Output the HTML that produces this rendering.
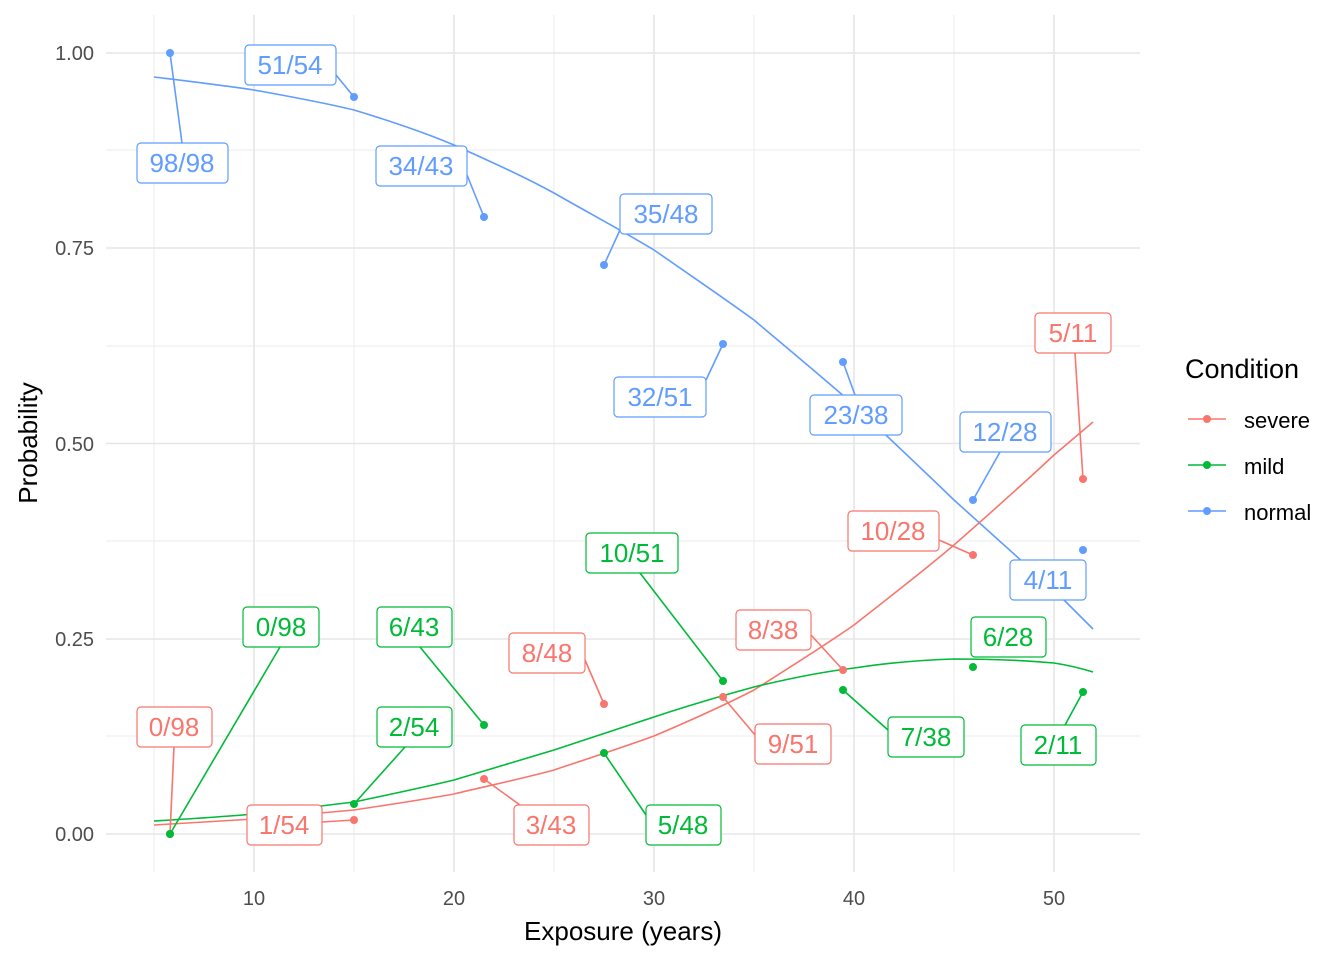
<!DOCTYPE html>
<html><head><meta charset="utf-8"><style>body{margin:0;background:#fff}svg{display:block}text{font-family:"Liberation Sans",sans-serif}</style></head><body>
<svg width="1344" height="960" viewBox="0 0 1344 960">
<g stroke="#ebebeb" stroke-width="1">
<line x1="106" x2="1140" y1="736" y2="736"/><line x1="106" x2="1140" y1="541" y2="541"/><line x1="106" x2="1140" y1="346" y2="346"/><line x1="106" x2="1140" y1="150" y2="150"/>
<line x1="154" x2="154" y1="15" y2="872"/><line x1="354" x2="354" y1="15" y2="872"/><line x1="554" x2="554" y1="15" y2="872"/><line x1="754" x2="754" y1="15" y2="872"/><line x1="954" x2="954" y1="15" y2="872"/>
</g>
<g stroke="#e6e6e6" stroke-width="1.6">
<line x1="106" x2="1140" y1="834" y2="834"/><line x1="106" x2="1140" y1="639" y2="639"/><line x1="106" x2="1140" y1="443.5" y2="443.5"/><line x1="106" x2="1140" y1="248" y2="248"/><line x1="106" x2="1140" y1="53" y2="53"/>
<line x1="254" x2="254" y1="15" y2="872"/><line x1="454" x2="454" y1="15" y2="872"/><line x1="654" x2="654" y1="15" y2="872"/><line x1="854" x2="854" y1="15" y2="872"/><line x1="1054" x2="1054" y1="15" y2="872"/>
</g>
<g font-size="20" fill="#4d4d4d" text-anchor="end">
<text x="94" y="841">0.00</text><text x="94" y="646">0.25</text><text x="94" y="451">0.50</text><text x="94" y="255">0.75</text><text x="94" y="60">1.00</text>
</g>
<g font-size="20" fill="#4d4d4d" text-anchor="middle">
<text x="254" y="905">10</text><text x="454" y="905">20</text><text x="654" y="905">30</text><text x="854" y="905">40</text><text x="1054" y="905">50</text>
</g>
<text x="623" y="940" font-size="26" text-anchor="middle">Exposure (years)</text>
<text transform="translate(37,443) rotate(-90)" font-size="26" text-anchor="middle">Probability</text>
<g fill="none" stroke-width="1.6">
<path id="cn" stroke="#619CFF" d="M154,77 C187,81 221,85 254,90 C287,96 321,102 354,110 C387,120 421,131 454,145 C487,160 521,175 554,193 C587,212 621,230 654,250 C687,273 721,296 754,320 C787,348 821,376 854,405 C887,436 921,468 954,500 C987,530 1021,560 1054,590 C1067,603 1080,616 1093,629"/>
<path stroke="#F8766D" d="M154,825 C187,823 221,821 254,819 C287,816 321,813 354,810 C387,805 421,800 454,794 C487,786 521,779 554,770 C587,759 621,748 654,736 C687,722 721,707 754,690 C787,669 821,648 854,625 C887,599 921,573 954,545 C987,516 1021,486 1054,455 C1067,444 1080,433 1093,422"/>
<path stroke="#00BA38" d="M154,821 C187,819 221,817 254,814 C287,810 321,806 354,802 C387,795 421,788 454,780 C487,770 521,760 554,750 C587,739 621,728 654,717 C687,706 721,696 754,687 C787,679 821,672 854,668 C887,663 921,660 954,659 C987,659 1021,660 1054,663 C1067,665 1080,668 1093,672"/>
</g>
<g stroke-width="1.6">
<g stroke="#619CFF"><line x1="170" y1="53" x2="182" y2="143"/><line x1="336" y1="75" x2="354" y2="97"/><line x1="467" y1="175" x2="484" y2="217"/><line x1="620" y1="230" x2="604" y2="265"/><line x1="706" y1="380" x2="723" y2="344"/><line x1="843" y1="362" x2="855" y2="395"/><line x1="973" y1="500" x2="1000" y2="452"/></g>
<g stroke="#F8766D"><line x1="170" y1="834" x2="174" y2="747"/><line x1="322" y1="822" x2="354" y2="820"/><line x1="484" y1="779" x2="520" y2="805"/><line x1="585" y1="660" x2="604" y2="704"/><line x1="723" y1="697" x2="755" y2="735"/><line x1="811" y1="635" x2="843" y2="670"/><line x1="939" y1="540" x2="973" y2="555"/><line x1="1075" y1="353" x2="1083" y2="479"/></g>
<g stroke="#00BA38"><line x1="280" y1="647" x2="170" y2="834"/><line x1="420" y1="647" x2="484" y2="725"/><line x1="405" y1="747" x2="354" y2="804"/><line x1="640" y1="573" x2="723" y2="681"/><line x1="646" y1="815" x2="604" y2="753"/><line x1="843" y1="690" x2="888" y2="730"/><line x1="1083" y1="692" x2="1065" y2="725"/></g>
</g>
<g fill="#619CFF"><circle cx="170" cy="53" r="4"/><circle cx="354" cy="97" r="4"/><circle cx="484" cy="217" r="4"/><circle cx="604" cy="265" r="4"/><circle cx="723" cy="344" r="4"/><circle cx="843" cy="362" r="4"/><circle cx="973" cy="500" r="4"/><circle cx="1083" cy="550" r="4"/></g>
<g fill="#F8766D"><circle cx="170" cy="834" r="4"/><circle cx="354" cy="820" r="4"/><circle cx="484" cy="779" r="4"/><circle cx="604" cy="704" r="4"/><circle cx="723" cy="697" r="4"/><circle cx="843" cy="670" r="4"/><circle cx="973" cy="555" r="4"/><circle cx="1083" cy="479" r="4"/></g>
<g fill="#00BA38"><circle cx="170" cy="834" r="4"/><circle cx="354" cy="804" r="4"/><circle cx="484" cy="725" r="4"/><circle cx="604" cy="753" r="4"/><circle cx="723" cy="681" r="4"/><circle cx="843" cy="690" r="4"/><circle cx="973" cy="667" r="4"/><circle cx="1083" cy="692" r="4"/></g>
<g font-size="26" text-anchor="middle" stroke-width="1.2">
<g stroke="#619CFF" fill="#fff"><rect x="137" y="143" width="91" height="40" rx="4"/><rect x="245" y="45" width="91" height="40" rx="4"/><rect x="376" y="146" width="91" height="40" rx="4"/><rect x="620" y="194" width="92" height="40" rx="4"/><rect x="614" y="377" width="92" height="40" rx="4"/><rect x="810" y="395" width="92" height="40" rx="4"/><rect x="960" y="412" width="91" height="40" rx="4"/><rect x="1010" y="560" width="76" height="40" rx="4"/></g>
<g fill="#619CFF"><text x="182" y="172">98/98</text><text x="290" y="74">51/54</text><text x="421" y="175">34/43</text><text x="666" y="223">35/48</text><text x="660" y="406">32/51</text><text x="856" y="424">23/38</text><text x="1005" y="441">12/28</text><text x="1048" y="589">4/11</text></g>
<g stroke="#F8766D" fill="#fff"><rect x="137" y="707" width="75" height="40" rx="4"/><rect x="247" y="805" width="75" height="40" rx="4"/><rect x="514" y="805" width="75" height="40" rx="4"/><rect x="509" y="633" width="76" height="40" rx="4"/><rect x="755" y="724" width="76" height="40" rx="4"/><rect x="736" y="610" width="75" height="40" rx="4"/><rect x="848" y="511" width="91" height="40" rx="4"/><rect x="1035" y="313" width="76" height="40" rx="4"/></g>
<g fill="#F8766D"><text x="174" y="736">0/98</text><text x="284" y="834">1/54</text><text x="551" y="834">3/43</text><text x="547" y="662">8/48</text><text x="793" y="753">9/51</text><text x="773" y="639">8/38</text><text x="893" y="540">10/28</text><text x="1073" y="342">5/11</text></g>
<g stroke="#00BA38" fill="#fff"><rect x="243" y="607" width="76" height="40" rx="4"/><rect x="377" y="607" width="75" height="40" rx="4"/><rect x="377" y="707" width="75" height="40" rx="4"/><rect x="586" y="533" width="92" height="40" rx="4"/><rect x="646" y="805" width="75" height="40" rx="4"/><rect x="888" y="717" width="76" height="40" rx="4"/><rect x="971" y="617" width="75" height="40" rx="4"/><rect x="1021" y="725" width="75" height="40" rx="4"/></g>
<g fill="#00BA38"><text x="281" y="636">0/98</text><text x="414" y="636">6/43</text><text x="414" y="736">2/54</text><text x="632" y="562">10/51</text><text x="683" y="834">5/48</text><text x="926" y="746">7/38</text><text x="1008" y="646">6/28</text><text x="1058" y="754">2/11</text></g>
</g>
<text x="1185" y="378" font-size="27">Condition</text>
<g stroke-width="1.6"><line x1="1188" x2="1226" y1="419" y2="419" stroke="#F8766D"/><line x1="1188" x2="1226" y1="465" y2="465" stroke="#00BA38"/><line x1="1188" x2="1226" y1="511" y2="511" stroke="#619CFF"/></g>
<circle cx="1207" cy="419" r="4" fill="#F8766D"/><circle cx="1207" cy="465" r="4" fill="#00BA38"/><circle cx="1207" cy="511" r="4" fill="#619CFF"/>
<g font-size="22"><text x="1244" y="428">severe</text><text x="1244" y="474">mild</text><text x="1244" y="520">normal</text></g>
</svg>
</body></html>
